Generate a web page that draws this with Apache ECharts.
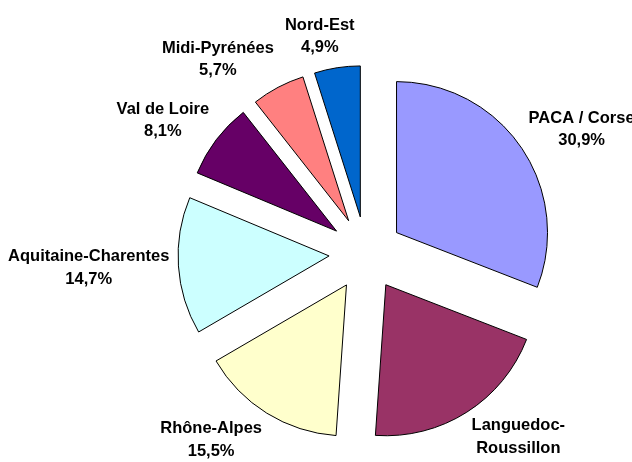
<!DOCTYPE html>
<html>
<head>
<meta charset="utf-8">
<script src="https://cdn.jsdelivr.net/npm/echarts@6/dist/echarts.min.js"></script>
<style>
  html, body { margin: 0; padding: 0; background: #fff; }
  #chart { width: 632px; height: 462px; }
</style>
</head>
<body>
<div id="chart"></div>
<script>
// regions, clockwise from 12 o'clock
const regions = ['PACA / Corse', 'Languedoc-Roussillon', 'Rhône-Alpes', 'Aquitaine-Charentes', 'Val de Loire', 'Midi-Pyrénées', 'Nord-Est'];
const shares = [30.9, 20.2, 15.5, 14.7, 8.1, 5.7, 4.9];
const colors = ['#9999ff', '#993366', '#ffffcc', '#ccffff', '#660066', '#ff8080', '#0066cc'];

const CX = 366, CY = 253.5, R = 151, OFFSET = 37, GAP = 9;
const FONT_SIZE = 16.5;
const FONT = 'bold ' + FONT_SIZE + 'px Arial, "Liberation Sans", sans-serif';
const LINE_H = 22.5;
const total = shares.reduce((a, b) => a + b, 0);

function labelText(name, value) {
    return name.replace('Languedoc-', 'Languedoc-\n') + '\n' + value.toFixed(1).replace('.', ',') + '%';
}

function midAngle(i) {
    let before = 0;
    for (let k = 0; k < i; k++) before += shares[k];
    return (before + shares[i] / 2) / total * Math.PI * 2;
}

// text box size, measured the same way the canvas will draw it
const ctx = document.createElement('canvas').getContext('2d');
ctx.font = FONT;
function boxSize(i) {
    const lines = labelText(regions[i], shares[i]).split('\n');
    const w = Math.max(...lines.map(l => ctx.measureText(l).width));
    return [w, lines.length * LINE_H];
}

const pieData = regions.map((name, i) => ({ name: name, value: shares[i] }));

const chart = echarts.init(document.getElementById('chart'));
chart.setOption({
    animation: false,
    series: [
        {
            // exploded slices
            type: 'pie',
            center: [CX, CY],
            radius: [0, R],
            startAngle: 90,
            clockwise: true,
            selectedMode: 'multiple',
            selectedOffset: OFFSET,
            silent: true,
            itemStyle: { borderColor: '#000', borderWidth: 1 },
            select: { itemStyle: { borderColor: '#000', borderWidth: 1 } },
            label: { show: false },
            labelLine: { show: false },
            data: pieData.map((d, i) => ({ ...d, selected: true, itemStyle: { color: colors[i] } })),
        },
        {
            // same slices, invisible, only carrying the labels
            type: 'pie',
            center: [CX, CY],
            radius: [0, R],
            startAngle: 90,
            clockwise: true,
            silent: true,
            avoidLabelOverlap: false,
            itemStyle: { color: 'rgba(0,0,0,0)', borderWidth: 0 },
            label: {
                show: true,
                position: 'outside',
                color: '#000',
                fontFamily: 'Arial, "Liberation Sans", sans-serif',
                fontWeight: 'bold',
                fontSize: FONT_SIZE,
                lineHeight: LINE_H,
                formatter: p => labelText(p.name, p.value),
            },
            labelLine: { show: false },
            labelLayout: function (p) {
                const i = p.dataIndex;
                const a = midAngle(i);
                const dx = Math.sin(a), dy = -Math.cos(a);
                const [w, h] = boxSize(i);
                const clamp = (v, k) => Math.max(-1, Math.min(1, v * k));
                const r = R + GAP;
                return {
                    x: CX + dx * (OFFSET + r) + clamp(dx, 3) * w / 2,
                    y: CY + dy * (OFFSET + r) + dy * h / 2,
                    align: 'center',
                    verticalAlign: 'middle',
                };
            },
            data: pieData,
        },
    ],
});
</script>
</body>
</html>
